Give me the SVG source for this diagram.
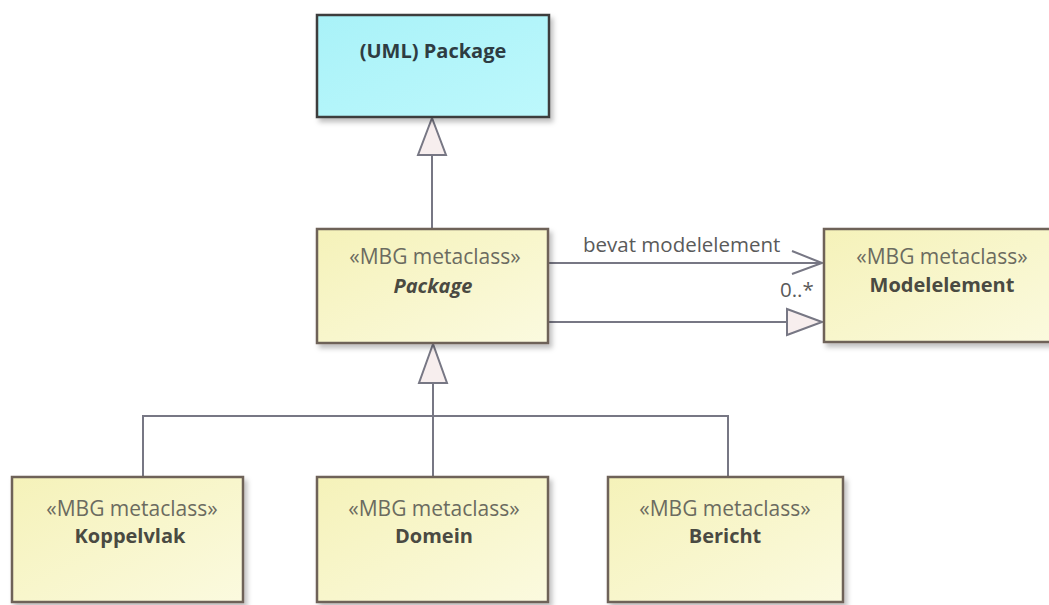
<svg xmlns="http://www.w3.org/2000/svg" width="1049" height="605" viewBox="0 0 1049 605">
<defs>
<linearGradient id="yel" x1="0" y1="0" x2="1" y2="1">
<stop offset="0" stop-color="#f5f2b9"/>
<stop offset="1" stop-color="#fbfadf"/>
</linearGradient>
<linearGradient id="cy" x1="0" y1="0" x2="1" y2="1">
<stop offset="0" stop-color="#a9f2f8"/>
<stop offset="1" stop-color="#bdf8fc"/>
</linearGradient>
<filter id="sh" x="-10%" y="-10%" width="125%" height="130%">
<feDropShadow dx="3" dy="4" stdDeviation="2.5" flood-color="#000" flood-opacity="0.25"/>
</filter>
</defs>
<style>
.box{fill:url(#yel);stroke:#6e6259;stroke-width:2.5;filter:url(#sh)}
.cbox{fill:url(#cy);stroke:#3c3c3c;stroke-width:2.5;filter:url(#sh)}
.st{font-family:"Open Sans","Noto Sans",sans-serif;font-size:21px;fill:#6b6b60;text-anchor:middle}
.nm{font-family:"Open Sans","Noto Sans",sans-serif;font-size:20px;font-weight:700;fill:#4a4a42;text-anchor:middle}
.ln{fill:none;stroke:#777784;stroke-width:2}
.tri{fill:#f7eeee;stroke:#777784;stroke-width:2;stroke-linejoin:miter}
.lb{font-family:"Open Sans","Noto Sans",sans-serif;font-size:20.5px;fill:#5a5a5a}
</style>
<g id="connectors">
<line class="ln" x1="432" y1="155" x2="432" y2="228"/>
<polygon class="tri" points="432,118 418,155 446,155"/>
<line class="ln" x1="548" y1="263" x2="822" y2="263"/>
<polyline class="ln" points="792,251 822,263 792,274"/>
<text class="lb" x="583" y="252">bevat modelelement</text>
<text class="lb" x="780" y="297">0..*</text>
<line class="ln" x1="548" y1="322" x2="787" y2="322"/>
<polygon class="tri" points="822,322 787,309 787,335"/>
<polygon class="tri" points="433,344 419,383 447,383"/>
<polyline class="ln" points="433,383 433,476"/>
<polyline class="ln" points="143,476 143,416 728,416 728,476"/>
</g>
<g id="uml-package">
<rect class="cbox" x="317" y="15" width="232" height="102"/>
<text x="433" y="58" style="font-family:'Open Sans','Noto Sans',sans-serif;font-size:20px;font-weight:700;fill:#2e3c42;text-anchor:middle">(UML) Package</text>
</g>
<g id="package">
<rect class="box" x="317" y="229" width="231" height="114"/>
<text class="st" x="435" y="264">«MBG metaclass»</text>
<text class="nm" x="433" y="293" font-style="italic">Package</text>
</g>
<g id="modelelement">
<rect class="box" x="824" y="229" width="240" height="113"/>
<text class="st" x="942" y="264">«MBG metaclass»</text>
<text class="nm" x="942" y="292">Modelelement</text>
</g>
<g id="koppelvlak">
<rect class="box" x="12" y="477" width="231" height="125"/>
<text class="st" x="132" y="516">«MBG metaclass»</text>
<text class="nm" x="130" y="543">Koppelvlak</text>
</g>
<g id="domein">
<rect class="box" x="317" y="477" width="231" height="125"/>
<text class="st" x="434" y="516">«MBG metaclass»</text>
<text class="nm" x="434" y="543">Domein</text>
</g>
<g id="bericht">
<rect class="box" x="608" y="477" width="235" height="125"/>
<text class="st" x="725" y="516">«MBG metaclass»</text>
<text class="nm" x="725" y="543">Bericht</text>
</g>
</svg>
